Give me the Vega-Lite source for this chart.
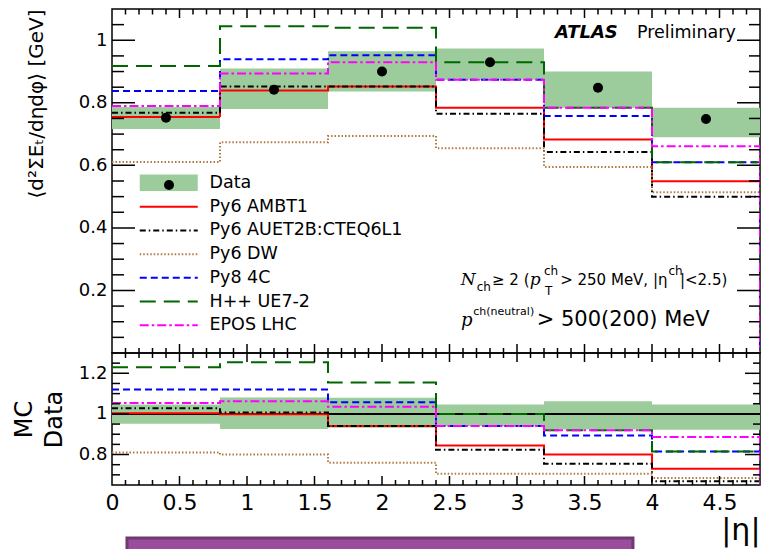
{
  "$schema": "https://vega.github.io/schema/vega-lite/v6.json",
  "padding": {"left": 11, "top": 8, "right": 0, "bottom": 0},
  "background": "white",
  "config": {
    "view": {"stroke": "black", "strokeWidth": 1.5},
    "font": "DejaVu Sans",
    "axis": {"grid": false, "domain": false, "labelColor": "black", "titleColor": "black", "labelFont": "DejaVu Sans", "titleFont": "DejaVu Sans", "titleFontWeight": "normal", "labelOverlap": false, "labelFlush": false},
    "legend": {"labelFont": "DejaVu Sans", "labelColor": "black", "padding": 0, "labelLimit": 300}
  },
  "datasets": {
    "bins": [
      {"lo": 0.0, "hi": 0.8, "c": 0.4, "d": 0.752, "blo": 0.716, "bhi": 0.787, "rlo": 0.952, "rhi": 1.047},
      {"lo": 0.8, "hi": 1.6, "c": 1.2, "d": 0.842, "blo": 0.78, "bhi": 0.91, "rlo": 0.926, "rhi": 1.081},
      {"lo": 1.6, "hi": 2.4, "c": 2.0, "d": 0.90, "blo": 0.836, "bhi": 0.965, "rlo": 0.932, "rhi": 1.08},
      {"lo": 2.4, "hi": 3.2, "c": 2.8, "d": 0.93, "blo": 0.874, "bhi": 0.974, "rlo": 0.94, "rhi": 1.047},
      {"lo": 3.2, "hi": 4.0, "c": 3.6, "d": 0.848, "blo": 0.784, "bhi": 0.90, "rlo": 0.923, "rhi": 1.062},
      {"lo": 4.0, "hi": 4.8, "c": 4.4, "d": 0.748, "blo": 0.69, "bhi": 0.784, "rlo": 0.922, "rhi": 1.047}
    ],
    "steps": [
      {"m": "Py6 AMBT1", "k": 0, "eta": 0.0, "v": 0.755, "r": 1.003},
      {"m": "Py6 AMBT1", "k": 1, "eta": 0.8, "v": 0.839, "r": 0.998},
      {"m": "Py6 AMBT1", "k": 2, "eta": 1.6, "v": 0.852, "r": 0.94},
      {"m": "Py6 AMBT1", "k": 3, "eta": 2.4, "v": 0.784, "r": 0.845},
      {"m": "Py6 AMBT1", "k": 4, "eta": 3.2, "v": 0.683, "r": 0.80},
      {"m": "Py6 AMBT1", "k": 5, "eta": 4.0, "v": 0.549, "r": 0.73},
      {"m": "Py6 AMBT1", "k": 6, "eta": 4.8, "v": 0.549, "r": 0.73},
      {"m": "Py6 AMBT1", "k": 7, "eta": 4.8, "v": 0, "r": 0},
      {"m": "Py6 AUET2B:CTEQ6L1", "k": 0, "eta": 0.0, "v": 0.768, "r": 1.028},
      {"m": "Py6 AUET2B:CTEQ6L1", "k": 1, "eta": 0.8, "v": 0.852, "r": 1.007},
      {"m": "Py6 AUET2B:CTEQ6L1", "k": 2, "eta": 1.6, "v": 0.852, "r": 0.94},
      {"m": "Py6 AUET2B:CTEQ6L1", "k": 3, "eta": 2.4, "v": 0.765, "r": 0.823},
      {"m": "Py6 AUET2B:CTEQ6L1", "k": 4, "eta": 3.2, "v": 0.643, "r": 0.755},
      {"m": "Py6 AUET2B:CTEQ6L1", "k": 5, "eta": 4.0, "v": 0.500, "r": 0.668},
      {"m": "Py6 AUET2B:CTEQ6L1", "k": 6, "eta": 4.8, "v": 0.500, "r": 0.668},
      {"m": "Py6 AUET2B:CTEQ6L1", "k": 7, "eta": 4.8, "v": 0, "r": 0},
      {"m": "Py6 DW", "k": 0, "eta": 0.0, "v": 0.611, "r": 0.81},
      {"m": "Py6 DW", "k": 1, "eta": 0.8, "v": 0.674, "r": 0.80},
      {"m": "Py6 DW", "k": 2, "eta": 1.6, "v": 0.694, "r": 0.76},
      {"m": "Py6 DW", "k": 3, "eta": 2.4, "v": 0.655, "r": 0.705},
      {"m": "Py6 DW", "k": 4, "eta": 3.2, "v": 0.595, "r": 0.705},
      {"m": "Py6 DW", "k": 5, "eta": 4.0, "v": 0.514, "r": 0.685},
      {"m": "Py6 DW", "k": 6, "eta": 4.8, "v": 0.514, "r": 0.685},
      {"m": "Py6 DW", "k": 7, "eta": 4.8, "v": 0, "r": 0},
      {"m": "Py8 4C", "k": 0, "eta": 0.0, "v": 0.838, "r": 1.12},
      {"m": "Py8 4C", "k": 1, "eta": 0.8, "v": 0.939, "r": 1.12},
      {"m": "Py8 4C", "k": 2, "eta": 1.6, "v": 0.952, "r": 1.057},
      {"m": "Py8 4C", "k": 3, "eta": 2.4, "v": 0.874, "r": 0.94},
      {"m": "Py8 4C", "k": 4, "eta": 3.2, "v": 0.758, "r": 0.894},
      {"m": "Py8 4C", "k": 5, "eta": 4.0, "v": 0.610, "r": 0.815},
      {"m": "Py8 4C", "k": 6, "eta": 4.8, "v": 0.610, "r": 0.815},
      {"m": "Py8 4C", "k": 7, "eta": 4.8, "v": 0, "r": 0},
      {"m": "H++ UE7-2", "k": 0, "eta": 0.0, "v": 0.918, "r": 1.23},
      {"m": "H++ UE7-2", "k": 1, "eta": 0.8, "v": 1.045, "r": 1.255},
      {"m": "H++ UE7-2", "k": 2, "eta": 1.6, "v": 1.040, "r": 1.155},
      {"m": "H++ UE7-2", "k": 3, "eta": 2.4, "v": 0.930, "r": 1.0},
      {"m": "H++ UE7-2", "k": 4, "eta": 3.2, "v": 0.784, "r": 0.92},
      {"m": "H++ UE7-2", "k": 5, "eta": 4.0, "v": 0.610, "r": 0.815},
      {"m": "H++ UE7-2", "k": 6, "eta": 4.8, "v": 0.610, "r": 0.815},
      {"m": "H++ UE7-2", "k": 7, "eta": 4.8, "v": 0, "r": 0},
      {"m": "EPOS LHC", "k": 0, "eta": 0.0, "v": 0.79, "r": 1.054},
      {"m": "EPOS LHC", "k": 1, "eta": 0.8, "v": 0.894, "r": 1.062},
      {"m": "EPOS LHC", "k": 2, "eta": 1.6, "v": 0.930, "r": 1.035},
      {"m": "EPOS LHC", "k": 3, "eta": 2.4, "v": 0.874, "r": 0.94},
      {"m": "EPOS LHC", "k": 4, "eta": 3.2, "v": 0.784, "r": 0.92},
      {"m": "EPOS LHC", "k": 5, "eta": 4.0, "v": 0.661, "r": 0.886},
      {"m": "EPOS LHC", "k": 6, "eta": 4.8, "v": 0.661, "r": 0.886},
      {"m": "EPOS LHC", "k": 7, "eta": 4.8, "v": 0, "r": 0}
    ],
    "xticks": [
      {"t": 0.1, "major": false}, {"t": 0.2, "major": false}, {"t": 0.3, "major": false}, {"t": 0.4, "major": false}, {"t": 0.5, "major": true},
      {"t": 0.6, "major": false}, {"t": 0.7, "major": false}, {"t": 0.8, "major": false}, {"t": 0.9, "major": false}, {"t": 1.0, "major": true},
      {"t": 1.1, "major": false}, {"t": 1.2, "major": false}, {"t": 1.3, "major": false}, {"t": 1.4, "major": false}, {"t": 1.5, "major": true},
      {"t": 1.6, "major": false}, {"t": 1.7, "major": false}, {"t": 1.8, "major": false}, {"t": 1.9, "major": false}, {"t": 2.0, "major": true},
      {"t": 2.1, "major": false}, {"t": 2.2, "major": false}, {"t": 2.3, "major": false}, {"t": 2.4, "major": false}, {"t": 2.5, "major": true},
      {"t": 2.6, "major": false}, {"t": 2.7, "major": false}, {"t": 2.8, "major": false}, {"t": 2.9, "major": false}, {"t": 3.0, "major": true},
      {"t": 3.1, "major": false}, {"t": 3.2, "major": false}, {"t": 3.3, "major": false}, {"t": 3.4, "major": false}, {"t": 3.5, "major": true},
      {"t": 3.6, "major": false}, {"t": 3.7, "major": false}, {"t": 3.8, "major": false}, {"t": 3.9, "major": false}, {"t": 4.0, "major": true},
      {"t": 4.1, "major": false}, {"t": 4.2, "major": false}, {"t": 4.3, "major": false}, {"t": 4.4, "major": false}, {"t": 4.5, "major": true},
      {"t": 4.6, "major": false}, {"t": 4.7, "major": false}
    ],
    "yticks_top": [
      {"t": 0.05, "major": false}, {"t": 0.1, "major": false}, {"t": 0.15, "major": false}, {"t": 0.2, "major": true},
      {"t": 0.25, "major": false}, {"t": 0.3, "major": false}, {"t": 0.35, "major": false}, {"t": 0.4, "major": true},
      {"t": 0.45, "major": false}, {"t": 0.5, "major": false}, {"t": 0.55, "major": false}, {"t": 0.6, "major": true},
      {"t": 0.65, "major": false}, {"t": 0.7, "major": false}, {"t": 0.75, "major": false}, {"t": 0.8, "major": true},
      {"t": 0.85, "major": false}, {"t": 0.9, "major": false}, {"t": 0.95, "major": false}, {"t": 1.0, "major": true},
      {"t": 1.05, "major": false}
    ],
    "yticks_bottom": [
      {"t": 0.7, "major": false}, {"t": 0.75, "major": false}, {"t": 0.8, "major": true}, {"t": 0.85, "major": false},
      {"t": 0.9, "major": false}, {"t": 0.95, "major": false}, {"t": 1.0, "major": true}, {"t": 1.05, "major": false},
      {"t": 1.1, "major": false}, {"t": 1.15, "major": false}, {"t": 1.2, "major": true}, {"t": 1.25, "major": false}
    ],
    "box": [{"x0": 0.111, "x1": 3.859, "y0": 0.389, "y1": 0.3}]
  },
  "spacing": 0,
  "bounds": "flush",
  "resolve": {"scale": {"x": "independent", "y": "independent", "color": "independent", "strokeDash": "independent", "fill": "independent", "shape": "independent"}},
  "vconcat": [
    {
      "width": 648,
      "height": 344,
      "resolve": {"scale": {"x": "independent", "y": "independent"}, "axis": {"x": "independent", "y": "independent"}},
      "layer": [
        {
          "data": {"name": "bins"},
          "mark": {"type": "rect"},
          "encoding": {
            "x": {"field": "lo", "type": "quantitative", "scale": {"domain": [0, 4.8], "nice": false, "zero": false}, "axis": null},
            "x2": {"field": "hi"},
            "y": {"field": "blo", "type": "quantitative", "scale": {"domain": [0, 1.1], "nice": false, "zero": false}, "axis": null},
            "y2": {"field": "bhi"},
            "fill": {"datum": "Data", "scale": {"domain": ["Data"], "range": ["#9ccc9c"]},
              "legend": {"orient": "none", "legendX": 48, "legendY": 165, "title": null, "symbolType": "M-5.8,-1.66H5.8V1.66H-5.8Z", "symbolSize": 100, "symbolStrokeWidth": 0, "labelFontSize": 17.5, "labelOffset": 32, "zindex": 0}}
          }
        },
        {
          "data": {"name": "steps"},
          "mark": {"type": "line", "interpolate": "step-after", "strokeWidth": 2, "clip": true},
          "encoding": {
            "x": {"field": "eta", "type": "quantitative", "scale": {"domain": [0, 4.8], "nice": false, "zero": false}, "axis": null},
            "y": {"field": "v", "type": "quantitative", "scale": {"domain": [0, 1.1], "nice": false, "zero": false}, "axis": null},
            "color": {"field": "m", "type": "nominal",
              "scale": {"domain": ["Py6 AMBT1", "Py6 AUET2B:CTEQ6L1", "Py6 DW", "Py8 4C", "H++ UE7-2", "EPOS LHC"], "range": ["#ff0000", "#000000", "#b07a45", "#0000ff", "#006600", "#ff00ff"]},
              "legend": {"orient": "none", "legendX": 48, "legendY": 189, "title": null, "symbolType": "M-5.8,0H5.8", "symbolSize": 100, "symbolStrokeWidth": 2, "labelFontSize": 17.5, "labelOffset": 32, "rowPadding": 4.7}},
            "strokeDash": {"field": "m", "type": "nominal",
              "scale": {"domain": ["Py6 AMBT1", "Py6 AUET2B:CTEQ6L1", "Py6 DW", "Py8 4C", "H++ UE7-2", "EPOS LHC"], "range": [[1, 0], [6, 3, 1.5, 3], [1.5, 2], [7, 4], [16, 8], [9, 3, 2.5, 3]]},
              "legend": {"orient": "none", "legendX": 48, "legendY": 189, "title": null, "symbolType": "M-5.8,0H5.8", "symbolSize": 100, "symbolStrokeWidth": 2, "labelFontSize": 17.5, "labelOffset": 32, "rowPadding": 4.7}},
            "order": {"field": "k"}
          }
        },
        {
          "data": {"name": "xticks"},
          "mark": {"type": "tick", "orient": "vertical", "thickness": 1.5, "color": "black", "opacity": 1, "clip": true},
          "encoding": {
            "x": {"field": "t", "type": "quantitative", "scale": {"domain": [0, 4.8], "nice": false, "zero": false}, "axis": null},
            "y": {"datum": 0, "type": "quantitative", "scale": {"domain": [0, 1.1], "nice": false, "zero": false}, "axis": null},
            "size": {"condition": {"test": "datum.major", "value": 18}, "value": 10}
          }
        },
        {
          "data": {"name": "xticks"},
          "mark": {"type": "tick", "orient": "vertical", "thickness": 1.5, "color": "black", "opacity": 1, "clip": true},
          "encoding": {
            "x": {"field": "t", "type": "quantitative", "scale": {"domain": [0, 4.8], "nice": false, "zero": false}, "axis": null},
            "y": {"datum": 1.1, "type": "quantitative", "scale": {"domain": [0, 1.1], "nice": false, "zero": false}, "axis": null},
            "size": {"condition": {"test": "datum.major", "value": 18}, "value": 11}
          }
        },
        {
          "data": {"name": "yticks_top"},
          "mark": {"type": "tick", "orient": "horizontal", "thickness": 1.5, "color": "black", "opacity": 1, "clip": true},
          "encoding": {
            "x": {"datum": 0, "type": "quantitative", "scale": {"domain": [0, 4.8], "nice": false, "zero": false}, "axis": null},
            "y": {"field": "t", "type": "quantitative", "scale": {"domain": [0, 1.1], "nice": false, "zero": false}, "axis": null},
            "size": {"condition": {"test": "datum.major", "value": 46}, "value": 24}
          }
        },
        {
          "data": {"name": "yticks_top"},
          "mark": {"type": "tick", "orient": "horizontal", "thickness": 1.5, "color": "black", "opacity": 1, "clip": true},
          "encoding": {
            "x": {"datum": 4.8, "type": "quantitative", "scale": {"domain": [0, 4.8], "nice": false, "zero": false}, "axis": null},
            "y": {"field": "t", "type": "quantitative", "scale": {"domain": [0, 1.1], "nice": false, "zero": false}, "axis": null},
            "size": {"condition": {"test": "datum.major", "value": 46}, "value": 22}
          }
        },
        {
          "data": {"name": "bins"},
          "mark": {"type": "point", "filled": true, "color": "black", "size": 100, "opacity": 1},
          "encoding": {
            "x": {"field": "c", "type": "quantitative", "scale": {"domain": [0, 4.8], "nice": false, "zero": false}, "axis": null},
            "y": {"field": "d", "type": "quantitative", "scale": {"domain": [0, 1.1], "nice": false, "zero": false},
              "axis": {"orient": "left", "values": [0.2, 0.4, 0.6, 0.8, 1], "ticks": false, "labelFontSize": 18, "labelPadding": 5, "labelExpr": "format(datum.value, '~g')", "title": "⟨d²ΣEₜ/dηdφ⟩ [GeV]", "titleFontSize": 20, "titleAnchor": "end", "titlePadding": 32}},
            "shape": {"datum": "Data points", "scale": {"domain": ["Data points"], "range": ["circle"]},
              "legend": {"orient": "none", "legendX": 51, "legendY": 170, "title": null, "symbolSize": 100, "symbolFillColor": "black", "symbolStrokeColor": "black", "labelExpr": "''", "zindex": 1}}
          }
        },
        {"data": {"values": [{}]}, "mark": {"type": "text", "text": "ATLAS", "fontSize": 18, "fontWeight": "bold", "fontStyle": "italic", "align": "left", "baseline": "alphabetic", "color": "black"},
          "encoding": {"x": {"datum": 3.281, "type": "quantitative", "scale": {"domain": [0, 4.8], "nice": false, "zero": false}, "axis": null}, "y": {"datum": 1.007, "type": "quantitative", "scale": {"domain": [0, 1.1], "nice": false, "zero": false}, "axis": null}}},
        {"data": {"values": [{}]}, "mark": {"type": "text", "text": "Preliminary", "fontSize": 17.5, "align": "left", "baseline": "alphabetic", "color": "black"},
          "encoding": {"x": {"datum": 3.889, "type": "quantitative", "scale": {"domain": [0, 4.8], "nice": false, "zero": false}, "axis": null}, "y": {"datum": 1.007, "type": "quantitative", "scale": {"domain": [0, 1.1], "nice": false, "zero": false}, "axis": null}}},
        {"data": {"values": [{}]}, "mark": {"type": "text", "text": "N", "font": "DejaVu Serif", "fontStyle": "italic", "fontSize": 17, "align": "left", "baseline": "alphabetic", "color": "black"},
          "encoding": {"x": {"datum": 2.583, "type": "quantitative", "scale": {"domain": [0, 4.8], "nice": false, "zero": false}, "axis": null}, "y": {"datum": 0.2175, "type": "quantitative", "scale": {"domain": [0, 1.1], "nice": false, "zero": false}, "axis": null}}},
        {"data": {"values": [{}]}, "mark": {"type": "text", "text": "ch", "fontSize": 12, "align": "left", "baseline": "alphabetic", "color": "black"},
          "encoding": {"x": {"datum": 2.701, "type": "quantitative", "scale": {"domain": [0, 4.8], "nice": false, "zero": false}, "axis": null}, "y": {"datum": 0.198, "type": "quantitative", "scale": {"domain": [0, 1.1], "nice": false, "zero": false}, "axis": null}}},
        {"data": {"values": [{}]}, "mark": {"type": "text", "text": "≥ 2 (", "fontSize": 15, "align": "left", "baseline": "alphabetic", "color": "black"},
          "encoding": {"x": {"datum": 2.815, "type": "quantitative", "scale": {"domain": [0, 4.8], "nice": false, "zero": false}, "axis": null}, "y": {"datum": 0.2175, "type": "quantitative", "scale": {"domain": [0, 1.1], "nice": false, "zero": false}, "axis": null}}},
        {"data": {"values": [{}]}, "mark": {"type": "text", "text": "p", "font": "DejaVu Serif", "fontStyle": "italic", "fontSize": 17, "align": "left", "baseline": "alphabetic", "color": "black"},
          "encoding": {"x": {"datum": 3.095, "type": "quantitative", "scale": {"domain": [0, 4.8], "nice": false, "zero": false}, "axis": null}, "y": {"datum": 0.2175, "type": "quantitative", "scale": {"domain": [0, 1.1], "nice": false, "zero": false}, "axis": null}}},
        {"data": {"values": [{}]}, "mark": {"type": "text", "text": "ch", "fontSize": 12, "align": "left", "baseline": "alphabetic", "color": "black"},
          "encoding": {"x": {"datum": 3.2, "type": "quantitative", "scale": {"domain": [0, 4.8], "nice": false, "zero": false}, "axis": null}, "y": {"datum": 0.2494, "type": "quantitative", "scale": {"domain": [0, 1.1], "nice": false, "zero": false}, "axis": null}}},
        {"data": {"values": [{}]}, "mark": {"type": "text", "text": "T", "fontSize": 12, "align": "left", "baseline": "alphabetic", "color": "black"},
          "encoding": {"x": {"datum": 3.207, "type": "quantitative", "scale": {"domain": [0, 4.8], "nice": false, "zero": false}, "axis": null}, "y": {"datum": 0.1855, "type": "quantitative", "scale": {"domain": [0, 1.1], "nice": false, "zero": false}, "axis": null}}},
        {"data": {"values": [{}]}, "mark": {"type": "text", "text": "> 250 MeV, |η", "fontSize": 15, "align": "left", "baseline": "alphabetic", "color": "black"},
          "encoding": {"x": {"datum": 3.32, "type": "quantitative", "scale": {"domain": [0, 4.8], "nice": false, "zero": false}, "axis": null}, "y": {"datum": 0.2175, "type": "quantitative", "scale": {"domain": [0, 1.1], "nice": false, "zero": false}, "axis": null}}},
        {"data": {"values": [{}]}, "mark": {"type": "text", "text": "ch", "fontSize": 12, "align": "left", "baseline": "alphabetic", "color": "black"},
          "encoding": {"x": {"datum": 4.122, "type": "quantitative", "scale": {"domain": [0, 4.8], "nice": false, "zero": false}, "axis": null}, "y": {"datum": 0.2494, "type": "quantitative", "scale": {"domain": [0, 1.1], "nice": false, "zero": false}, "axis": null}}},
        {"data": {"values": [{}]}, "mark": {"type": "text", "text": "|<2.5)", "fontSize": 15, "align": "left", "baseline": "alphabetic", "color": "black"},
          "encoding": {"x": {"datum": 4.207, "type": "quantitative", "scale": {"domain": [0, 4.8], "nice": false, "zero": false}, "axis": null}, "y": {"datum": 0.2175, "type": "quantitative", "scale": {"domain": [0, 1.1], "nice": false, "zero": false}, "axis": null}}},
        {"data": {"values": [{}]}, "mark": {"type": "text", "text": "p", "font": "DejaVu Serif", "fontStyle": "italic", "fontSize": 18, "align": "left", "baseline": "alphabetic", "color": "black"},
          "encoding": {"x": {"datum": 2.585, "type": "quantitative", "scale": {"domain": [0, 4.8], "nice": false, "zero": false}, "axis": null}, "y": {"datum": 0.0863, "type": "quantitative", "scale": {"domain": [0, 1.1], "nice": false, "zero": false}, "axis": null}}},
        {"data": {"values": [{}]}, "mark": {"type": "text", "text": "ch(neutral)", "fontSize": 11, "align": "left", "baseline": "alphabetic", "color": "black"},
          "encoding": {"x": {"datum": 2.676, "type": "quantitative", "scale": {"domain": [0, 4.8], "nice": false, "zero": false}, "axis": null}, "y": {"datum": 0.1215, "type": "quantitative", "scale": {"domain": [0, 1.1], "nice": false, "zero": false}, "axis": null}}},
        {"data": {"values": [{}]}, "mark": {"type": "text", "text": "> 500(200) MeV", "fontSize": 21, "align": "left", "baseline": "alphabetic", "color": "black"},
          "encoding": {"x": {"datum": 3.146, "type": "quantitative", "scale": {"domain": [0, 4.8], "nice": false, "zero": false}, "axis": null}, "y": {"datum": 0.0863, "type": "quantitative", "scale": {"domain": [0, 1.1], "nice": false, "zero": false}, "axis": null}}}
      ]
    },
    {
      "width": 648,
      "height": 132,
      "resolve": {"scale": {"x": "independent", "y": "independent"}, "axis": {"x": "independent", "y": "independent"}},
      "layer": [
        {
          "data": {"name": "bins"},
          "mark": {"type": "rect", "color": "#9ccc9c"},
          "encoding": {
            "x": {"field": "lo", "type": "quantitative", "scale": {"domain": [0, 4.8], "nice": false, "zero": false}, "axis": null},
            "x2": {"field": "hi"},
            "y": {"field": "rlo", "type": "quantitative", "scale": {"domain": [0.65, 1.3], "nice": false, "zero": false}, "axis": null},
            "y2": {"field": "rhi"}
          }
        },
        {
          "data": {"values": [{}]},
          "mark": {"type": "rule", "color": "black", "strokeWidth": 2},
          "encoding": {"y": {"datum": 1, "type": "quantitative", "scale": {"domain": [0.65, 1.3], "nice": false, "zero": false}, "axis": null}}
        },
        {
          "data": {"name": "steps"},
          "mark": {"type": "line", "interpolate": "step-after", "strokeWidth": 2, "clip": true},
          "encoding": {
            "x": {"field": "eta", "type": "quantitative", "scale": {"domain": [0, 4.8], "nice": false, "zero": false}, "axis": null},
            "y": {"field": "r", "type": "quantitative", "scale": {"domain": [0.65, 1.3], "nice": false, "zero": false}, "axis": null},
            "color": {"field": "m", "type": "nominal",
              "scale": {"domain": ["Py6 AMBT1", "Py6 AUET2B:CTEQ6L1", "Py6 DW", "Py8 4C", "H++ UE7-2", "EPOS LHC"], "range": ["#ff0000", "#000000", "#b07a45", "#0000ff", "#006600", "#ff00ff"]}, "legend": null},
            "strokeDash": {"field": "m", "type": "nominal",
              "scale": {"domain": ["Py6 AMBT1", "Py6 AUET2B:CTEQ6L1", "Py6 DW", "Py8 4C", "H++ UE7-2", "EPOS LHC"], "range": [[1, 0], [6, 3, 1.5, 3], [1.5, 2], [7, 4], [16, 8], [9, 3, 2.5, 3]]}, "legend": null},
            "order": {"field": "k"}
          }
        },
        {
          "data": {"name": "xticks"},
          "mark": {"type": "tick", "orient": "vertical", "thickness": 1.5, "color": "black", "opacity": 1, "clip": true},
          "encoding": {
            "x": {"field": "t", "type": "quantitative", "scale": {"domain": [0, 4.8], "nice": false, "zero": false}, "axis": null},
            "y": {"datum": 0.65, "type": "quantitative", "scale": {"domain": [0.65, 1.3], "nice": false, "zero": false}, "axis": null},
            "size": {"condition": {"test": "datum.major", "value": 18}, "value": 10}
          }
        },
        {
          "data": {"name": "xticks"},
          "mark": {"type": "tick", "orient": "vertical", "thickness": 1.5, "color": "black", "opacity": 1, "clip": true},
          "encoding": {
            "x": {"field": "t", "type": "quantitative", "scale": {"domain": [0, 4.8], "nice": false, "zero": false}, "axis": null},
            "y": {"datum": 1.3, "type": "quantitative", "scale": {"domain": [0.65, 1.3], "nice": false, "zero": false}, "axis": null},
            "size": {"condition": {"test": "datum.major", "value": 18}, "value": 10}
          }
        },
        {
          "data": {"name": "yticks_bottom"},
          "mark": {"type": "tick", "orient": "horizontal", "thickness": 1.5, "color": "black", "opacity": 1, "clip": true},
          "encoding": {
            "x": {"datum": 0, "type": "quantitative", "scale": {"domain": [0, 4.8], "nice": false, "zero": false}, "axis": null},
            "y": {"field": "t", "type": "quantitative", "scale": {"domain": [0.65, 1.3], "nice": false, "zero": false}, "axis": null},
            "size": {"condition": {"test": "datum.major", "value": 34}, "value": 16}
          }
        },
        {
          "data": {"name": "yticks_bottom"},
          "mark": {"type": "tick", "orient": "horizontal", "thickness": 1.5, "color": "black", "opacity": 1, "clip": true},
          "encoding": {
            "x": {"datum": 4.8, "type": "quantitative", "scale": {"domain": [0, 4.8], "nice": false, "zero": false}, "axis": null},
            "y": {"field": "t", "type": "quantitative", "scale": {"domain": [0.65, 1.3], "nice": false, "zero": false}, "axis": null},
            "size": {"condition": {"test": "datum.major", "value": 30}, "value": 14}
          }
        },
        {
          "data": {"name": "box"},
          "mark": {"type": "rect", "fill": "#9b4c9b", "stroke": "#6f3a70", "strokeWidth": 3, "clip": false},
          "encoding": {
            "x": {"field": "x0", "type": "quantitative", "scale": {"domain": [0, 4.8], "nice": false, "zero": false},
              "axis": {"orient": "bottom", "values": [0, 0.5, 1, 1.5, 2, 2.5, 3, 3.5, 4, 4.5], "ticks": false, "labelFontSize": 22, "labelPadding": 7, "labelExpr": "format(datum.value, '~g')", "title": "|η|", "titleFontSize": 30, "titleAnchor": "end", "titlePadding": 2}},
            "x2": {"field": "x1"},
            "y": {"field": "y0", "type": "quantitative", "scale": {"domain": [0.65, 1.3], "nice": false, "zero": false},
              "axis": {"orient": "left", "values": [0.8, 1, 1.2], "ticks": false, "labelFontSize": 18, "labelPadding": 5, "labelExpr": "format(datum.value, '~g')", "title": ["MC", "Data"], "titleFontSize": 24, "titleLineHeight": 30, "titlePadding": 12}},
            "y2": {"field": "y1"}
          }
        }
      ]
    }
  ]
}
